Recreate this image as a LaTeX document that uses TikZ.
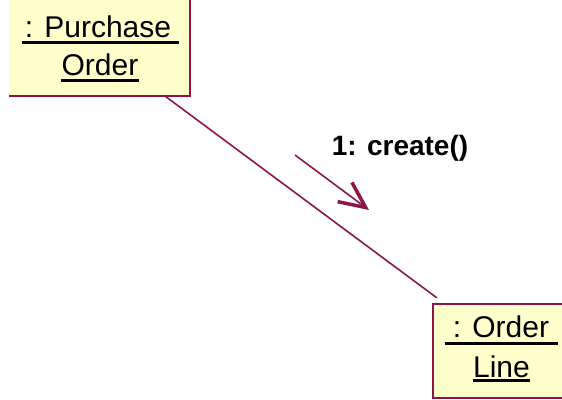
\documentclass[tikz,border=0pt]{standalone}
\usepackage{fontspec}
\setmainfont{Liberation Sans}
\usetikzlibrary{arrows.meta}
\definecolor{linkred}{RGB}{140,22,72}
\definecolor{objfill}{RGB}{255,255,204}

\begin{document}
\begin{tikzpicture}[x=1pt,y=-1pt,
    objbox/.style={fill=objfill,inner sep=0pt},
    objtext/.style={anchor=base,inner sep=0pt,font=\fontsize{30}{32}\selectfont},
    uline/.style={line width=3pt,black},
    edge/.style={linkred,line width=1.6pt}]
    \useasboundingbox (0,0) rectangle (562,399);
    \clip (0,0) rectangle (562,399);
    % objects
    \node[objbox,minimum width=181pt,minimum height=110pt] (po) at (99.5,41) {};
    \draw[edge,line width=2pt] (po.north east) -- (po.south east) -- (po.south west);
    \node[objbox,minimum width=140pt,minimum height=94pt] (ol) at (503,351) {};
    \draw[edge,line width=2pt] (ol.north east) -- (ol.north west) -- (ol.south west) -- (ol.south east);
    % names
    \node[objtext] (pur) at (98,37) {: Purchase};
    \node[objtext] (ord) at (100,75) {Order};
    \node[objtext] (ord2) at (501,337) {: Order};
    \node[objtext] (lin) at (501.5,377) {Line};
    \draw[uline] ([xshift=-3pt,yshift=-5pt]pur.base west) -- ([xshift=8pt,yshift=-5pt]pur.base east);
    \draw[uline] ([yshift=-5pt]ord.base west) -- ([yshift=-5pt]ord.base east);
    \draw[uline] ([xshift=-8pt,yshift=-6pt]ord2.base west) -- ([xshift=9pt,yshift=-6pt]ord2.base east);
    \draw[uline] ([yshift=-3pt]lin.base west) -- ([yshift=-3pt]lin.base east);
    % link
    \draw[edge] ([xshift=-25pt]po.south east) -- ([xshift=4pt,yshift=6pt]ol.north west);
    % message
    \coordinate (msgtail) at (295,155);
    \coordinate (msghead) at (369,210);
    \draw[edge,-{Straight Barb[length=26pt,width=24pt,line width=3.5pt]}] (msgtail) -- (msghead);
    \node[objtext,font=\fontsize{28}{30}\selectfont\bfseries] (msg) at (400,155) {1: create()};
\end{tikzpicture}
\end{document}
